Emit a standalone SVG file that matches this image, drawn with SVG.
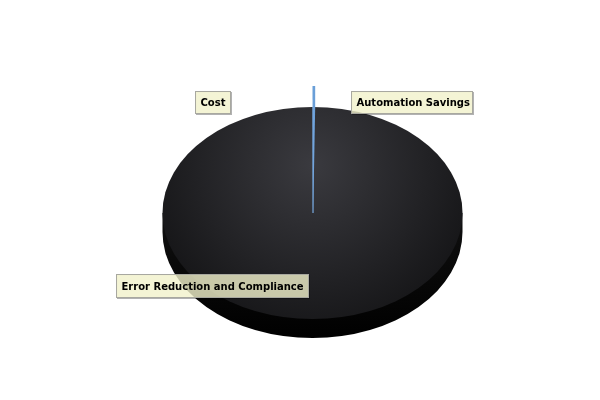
<svg xmlns="http://www.w3.org/2000/svg" width="600" height="400" viewBox="0 0 600 400">
<style>
.lbl rect{fill:#fafad2;fill-opacity:0.75;stroke:#a8a8a0;stroke-width:1}
.lbl text{font-family:"DejaVu Sans",sans-serif;font-weight:bold;font-size:10px;fill:#000}
</style>
<defs>
<radialGradient id="top" cx="312" cy="165" r="175" gradientUnits="userSpaceOnUse">
<stop offset="0" stop-color="#3a3a3f"/>
<stop offset="1" stop-color="#151517"/>
</radialGradient>
<linearGradient id="side" x1="0" y1="0" x2="0" y2="1">
<stop offset="0" stop-color="#101010"/>
<stop offset="1" stop-color="#000"/>
</linearGradient>
<filter id="sh" x="-10%" y="-20%" width="130%" height="160%">
<feDropShadow dx="1" dy="1" stdDeviation="0.6" flood-color="#000" flood-opacity="0.3"/>
</filter>
</defs>
<rect width="600" height="400" fill="#fff"/>
<g id="pie">
<path d="M162.5,213 L162.5,232 A150,106 0 0 0 462.5,232 L462.5,213 Z" fill="url(#side)"/>
<ellipse cx="312.5" cy="213" rx="150" ry="106" fill="url(#top)"/>
</g>
<g id="slice-automation">
<polygon points="312.5,86 315.2,86 315.2,107 313.2,213 312.8,213" fill="#6a9fd8"/>
<line x1="313" y1="107" x2="313" y2="213" stroke="#7aaae0" stroke-width="1"/>
</g>
<g id="label-cost" class="lbl" filter="url(#sh)">
<rect x="195.5" y="91.5" width="35" height="22"/>
<text x="200.5" y="106">Cost</text>
</g>
<g id="label-automation" class="lbl" filter="url(#sh)">
<rect x="351.5" y="91.5" width="121" height="22"/>
<text x="356.5" y="106">Automation Savings</text>
</g>
<g id="label-error" class="lbl" filter="url(#sh)">
<rect x="116.5" y="274.5" width="192" height="23"/>
<text x="121.5" y="290">Error Reduction and Compliance</text>
</g>
</svg>
